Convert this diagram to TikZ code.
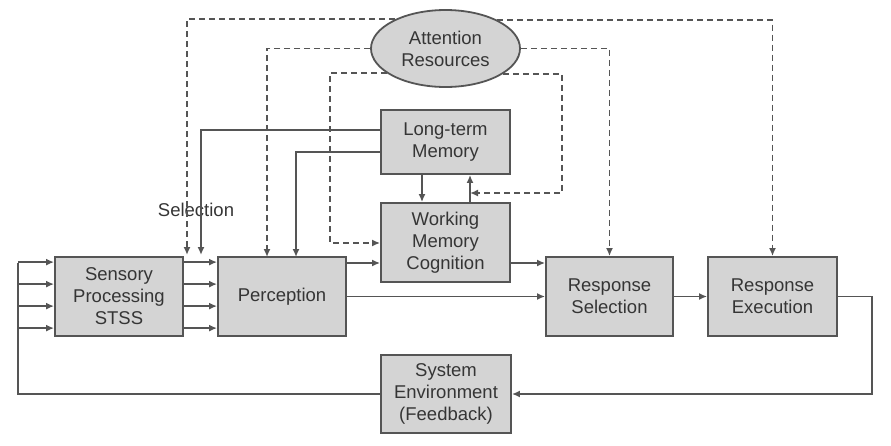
\documentclass[tikz,border=0pt]{standalone}
\usepackage{fontspec}
\setmainfont{Liberation Sans}
\usetikzlibrary{arrows.meta,shapes.geometric,calc}
\definecolor{lc}{HTML}{555555}
\definecolor{bf}{HTML}{D4D4D4}
\definecolor{tc}{HTML}{353535}
\begin{document}
\begin{tikzpicture}[x=1pt,y=-1pt,
  box/.style={draw=lc,fill=bf,line width=1.8pt,inner sep=0pt,align=center,text=tc,
     font=\fontsize{18.5}{22}\selectfont},
  ln/.style={draw=lc,line width=1.7pt},
  arr/.style={ln,-{Latex[length=8pt,width=7pt]}},
  dsh/.style={dash pattern=on 6pt off 4pt}]
\useasboundingbox (0,0) rectangle (891,445);
% nodes
\node[box,ellipse,minimum width=149pt,minimum height=77pt] (att) at (445.5,48.5) {Attention\\Resources};
\node[box,minimum width=129pt,minimum height=64pt] (ltm) at (445.5,142) {Long-term\\Memory};
\node[box,minimum width=129pt,minimum height=79pt] (wm) at (445.5,242.5) {Working\\Memory\\Cognition};
\node[box,minimum width=128pt,minimum height=79pt] (sens) at (119,296.5) {Sensory\\Processing\\STSS};
\node[box,minimum width=128pt,minimum height=79pt] (perc) at (282,296.5) {Perception};
\node[box,minimum width=127pt,minimum height=79pt] (rsel) at (609.5,296.5) {Response\\Selection};
\node[box,minimum width=129pt,minimum height=79pt] (rexe) at (772.5,296.5) {Response\\Execution};
\node[box,minimum width=130pt,minimum height=78pt] (env) at (446,394) {System\\Environment\\(Feedback)};
\node[text=tc,font=\fontsize{18.5}{22}\selectfont] (sel) at (196,210) {Selection};
% coordinates
\coordinate (fbl) at (18,263);
\coordinate (selD) at (187,255);
\coordinate (selS) at (201,255);
\coordinate (pd) at (267,257);
\coordinate (ps) at (296,257);
\coordinate (il) at (330,243);
\coordinate (ir) at (562,193);
\coordinate (ltmdn) at (422,174);
\coordinate (ltmup) at (470,203);
\coordinate (p1) at (346,263);
\coordinate (w1) at (510,263);
\coordinate (fbr) at (872,394);
% sensory inputs and sensory -> perception
\foreach \k in {6,28,50,72}{
  \draw[arr] ([yshift=-\k pt]sens.north west -| fbl) -- ([yshift=-\k pt]sens.north west);
  \draw[arr] ([yshift=-\k pt]sens.north east) -- ([yshift=-\k pt]perc.north west);
}
% feedback loop
\draw[ln] (env.west) -| (fbl);
\draw[arr] (rexe.east) -| (fbr) -- (env.east);
% main flow
\draw[arr] (p1) -- (p1 -| wm.west);
\draw[arr] (w1) -- (w1 -| rsel.west);
\draw[arr] (perc.east) -- (rsel.west);
\draw[arr] (rsel.east) -- (rexe.west);
% long-term memory
\draw[arr] ([yshift=-21pt]ltm.north west) -| (selS);
\draw[arr] ([yshift=-43pt]ltm.north west) -| (ps);
\draw[arr] (ltmdn) -- (ltmdn |- wm.north);
\draw[arr] (ltmup) -- (ltmup |- ltm.south);
% attention resources (dashed)
\draw[arr,dsh] (att.150.4) -| (selD);
\draw[arr,dsh] (att.29.6) -| (rexe.north);
\draw[arr,dsh] (att.west) -| (pd);
\draw[arr,dsh] (att.east) -| (rsel.north);
\draw[arr,dsh] (att.203.1) -| (il) -- (il -| wm.west);
\draw[arr,dsh] (att.336.9) -| (ir) -- (ir -| ltmup);
\end{tikzpicture}
\end{document}
